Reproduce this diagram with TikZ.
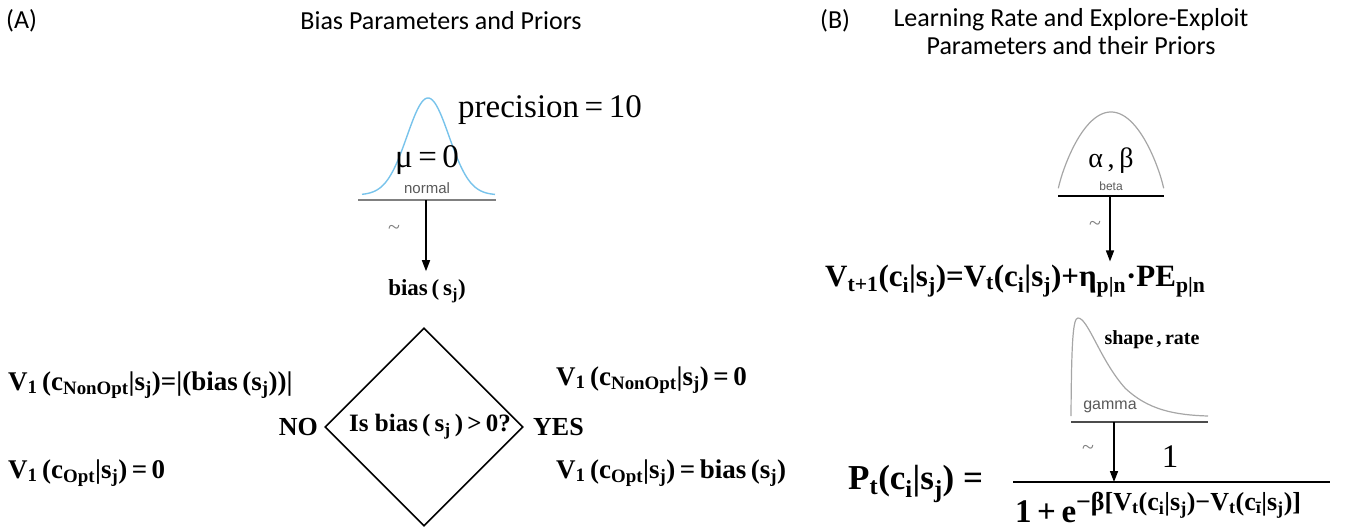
\documentclass[tikz,border=0pt]{standalone}
\usepackage{fontspec}
\setmainfont{Liberation Serif}
\newfontfamily\titlefont{Carlito}
\newfontfamily\labfont{Liberation Sans}
\usetikzlibrary{arrows.meta,shapes.geometric}
\newcommand{\sbs}[1]{\textsubscript{#1}}
\newcommand{\fs}[1]{\fontsize{#1}{#1}\selectfont}
\tikzset{
  ttl/.style={font=\titlefont\fs{26}, inner sep=0pt},
  eqa/.style={font=\bfseries\fs{27}, inner sep=0pt},
  eqb/.style={font=\bfseries\fs{31}, inner sep=0pt},
  reg/.style={font=\fs{33}, inner sep=0pt},
  dist/.style={font=\labfont\fs{14}, text=gray!70!black, inner sep=0pt},
  tld/.style={font=\fs{22}, text=gray, inner sep=0pt},
  arr/.style={-{Triangle[length=11pt,width=8pt]}, line width=1.5pt},
  baseln/.style={line width=1.6pt},
}
\begin{document}
\begin{tikzpicture}[x=1pt,y=-1pt]
\useasboundingbox (0,0) rectangle (1346,527);
% titles
\node[ttl, anchor=west] (labA) at (6,21) {(A)};
\node[ttl] (titA) at (441,21) {Bias Parameters and Priors};
\node[ttl, anchor=west] (labB) at (820,21) {(B)};
\node[ttl, align=center] (titB) at (1071,32) {Learning Rate and Explore-Exploit\\[2pt]Parameters and their Priors};
% ---------- (A) normal prior ----------
\draw[color={rgb,255:red,120;green,195;blue,235}, line width=1.4pt]
  plot[domain=362:495, samples=90] (\x,{195-97*exp(-((\x-428)^2)/882)});
\draw[baseln, gray] (358,200) -- (496,200);
\coordinate (nb) at (426,200);
\node[reg, anchor=west] (prec) at (458,110) {precision\,=\,10};
\node[reg] (mu) at (427,160) {μ\,=\,0};
\node[dist, font=\labfont\fs{15}] (normal) at (427,188) {normal};
\node[tld] (t1) at (394,230) {\textasciitilde};
\node[font=\bfseries\fs{23}, inner sep=0pt] (bias) at (427,291) {bias\,(\,s\sbs{j})};
\draw[arr, shorten >=8pt] (nb) -- (bias.north -| nb);
% decision
\node[diamond, draw, line width=1.6pt, minimum width=198pt, minimum height=198pt, inner sep=0pt] (dia) at (424,427) {};
\node[font=\bfseries\fs{25}, inner sep=0pt] (q) at (430,427) {Is bias\,(\,s\sbs{j}\,)\,>\,0?};
\node[font=\bfseries\fs{26}, inner sep=0pt, anchor=east] (no) at (318,427) {NO};
\node[font=\bfseries\fs{26}, inner sep=0pt, anchor=west] (yes) at (533,427) {YES};
\node[eqa, anchor=west] (l1) at (8,385) {V\sbs{1}\,(c\sbs{NonOpt}|s\sbs{j})=|(bias\,(s\sbs{j}))|};
\node[eqa, anchor=west] (l2) at (8,473) {V\sbs{1}\,(c\sbs{Opt}|s\sbs{j})\,=\,0};
\node[eqa, anchor=west] (r1) at (556,380) {V\sbs{1}\,(c\sbs{NonOpt}|s\sbs{j})\,=\,0};
\node[eqa, anchor=west] (r2) at (556,473) {V\sbs{1}\,(c\sbs{Opt}|s\sbs{j})\,=\,bias\,(s\sbs{j})};
% ---------- (B) beta prior ----------
\draw[gray!70, line width=1.2pt]
  plot[domain=1058.3:1163.7, samples=80] (\x,{190-78*(4*((\x-1058)/106)*(1-(\x-1058)/106))^0.85});
\draw[baseln] (1058,196) -- (1164,196);
\coordinate (bb) at (1110,196);
\node[font=\fs{28}, inner sep=0pt] (ab) at (1111,161) {α\,,\,β};
\node[dist, font=\labfont\fs{12}] (beta) at (1111,186) {beta};
\node[tld] (t2) at (1095,226) {\textasciitilde};
\node[eqb, anchor=west] (upd) at (825,281) {V\sbs{t+1}(c\sbs{i}|s\sbs{j})=V\sbs{t}(c\sbs{i}|s\sbs{j})+η\sbs{p|n}·PE\sbs{p|n}};
\draw[arr, shorten >=3pt] (bb) -- (bb |- upd.north);
% gamma prior
\draw[gray!70, line width=1.2pt] (1071,416) .. controls (1071.5,340) and (1073,318) .. (1078,318)
  .. controls (1088,318) and (1100,360) .. (1125,388)
  .. controls (1148,410) and (1175,415) .. (1208,416);
\draw[baseln, gray!60!black] (1071,422) -- (1208,422);
\coordinate (gb) at (1114,422);
\node[font=\bfseries\fs{20}, inner sep=0pt] (sr) at (1152,340) {shape\,,\,rate};
\node[dist, font=\labfont\fs{16}] (gamma) at (1110,407) {gamma};
\node[tld] (t3) at (1088,450) {\textasciitilde};
% softmax formula
\coordinate (fl) at (1013,482);
\coordinate (fr) at (1330,482);
\draw[line width=2pt] (fl) -- (fr);
\coordinate (fa) at (1114,482);
\draw[arr] (gb) -- (fa);
\node[font=\bfseries\fs{35}, inner sep=0pt, anchor=west] (pt) at (848,484) {P\sbs{t}(c\sbs{i}|s\sbs{j})\ =};
\node[font=\fs{33}, inner sep=0pt] (num) at (1170,457) {1};
\node[font=\bfseries\fs{33}, inner sep=0pt, anchor=west] (den) at (1015,507) {1\,+\,e\raisebox{12pt}{\fs{26}−β[V\sbs{t}(c\sbs{i}|s\sbs{j})−V\sbs{t}(c\sbs{ī}|s\sbs{j})]}};
\end{tikzpicture}
\end{document}
